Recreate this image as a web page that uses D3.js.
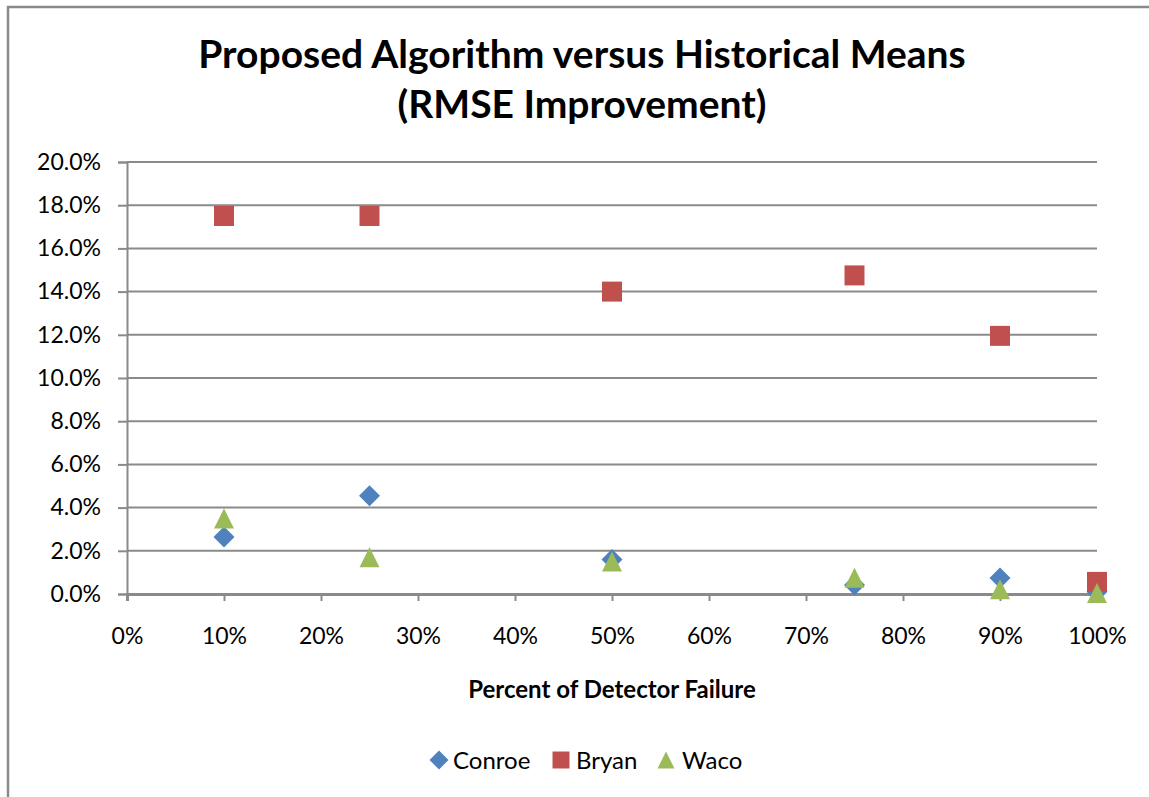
<!DOCTYPE html>
<html>
<head>
<meta charset="utf-8">
<script src="https://cdn.jsdelivr.net/npm/d3@7"></script>
<style>
  html, body { margin: 0; padding: 0; background: #fff; }
  svg { display: block; }
  text { font-family: Lato, "Open Sans", sans-serif; fill: #000; }
</style>
</head>
<body>
<svg id="chart" width="1149" height="797"></svg>
<script>
// Percent of detector failure (x) and RMSE improvement (%) per city
const failurePct = [10, 25, 50, 75, 90, 100];
const conroe = [2.64, 4.55, 1.6, 0.42, 0.74, 0.1];
const bryan  = [17.5, 17.5, 14.0, 14.75, 11.95, 0.56];
const waco   = [3.5, 1.7, 1.5, 0.75, 0.22, 0.05];

const xTicks = [0, 10, 20, 30, 40, 50, 60, 70, 80, 90, 100];
const yTicks = [0, 2, 4, 6, 8, 10, 12, 14, 16, 18, 20];

const titleLines = ["Proposed Algorithm versus Historical Means", "(RMSE Improvement)"];
const xTitle = "Percent of Detector Failure";

const series = [
  { name: "Conroe", values: conroe, color: "#4F81BD", shape: "diamond" },
  { name: "Bryan",  values: bryan,  color: "#C0504D", shape: "square" },
  { name: "Waco",   values: waco,   color: "#9BBB59", shape: "triangle" }
];

const svg = d3.select("#chart");
const W = 1149, H = 797;
const plot = { left: 127, right: 1097, top: 162, bottom: 594 };
const gridColor = "#8a8a8a";

// chart frame
svg.append("rect")
  .attr("x", 8).attr("y", 7)
  .attr("width", W + 20).attr("height", H + 20)
  .attr("fill", "#fff")
  .attr("stroke", gridColor).attr("stroke-width", 2.5);

const x = d3.scaleLinear().domain([0, 100]).range([plot.left, plot.right]);
const y = d3.scaleLinear().domain([0, 20]).range([plot.bottom, plot.top]);

// horizontal gridlines
svg.append("g").selectAll("line")
  .data(yTicks.filter(d => d > 0))
  .join("line")
  .attr("x1", plot.left).attr("x2", plot.right)
  .attr("y1", d => y(d)).attr("y2", d => y(d))
  .attr("stroke", gridColor).attr("stroke-width", 2);

// y axis
const yAxis = svg.append("g")
  .attr("transform", `translate(${plot.left},0)`)
  .call(d3.axisLeft(y).tickValues(yTicks).tickSize(9).tickPadding(9)
    .tickFormat(d => d.toFixed(1) + "%"));
yAxis.select(".domain").attr("stroke", gridColor).attr("stroke-width", 2);
yAxis.selectAll(".tick line").attr("stroke", gridColor).attr("stroke-width", 2);
yAxis.selectAll(".tick text")
  .attr("font-size", 23).attr("font-family", "Lato, sans-serif").attr("fill", "#000")
  .attr("dx", -8);

// x axis
const xAxis = svg.append("g")
  .attr("transform", `translate(0,${plot.bottom})`)
  .call(d3.axisBottom(x).tickValues(xTicks).tickSize(7).tickPadding(27)
    .tickFormat(d => d + "%"));
xAxis.select(".domain").attr("stroke", gridColor).attr("stroke-width", 3);
xAxis.selectAll(".tick line").attr("stroke", gridColor).attr("stroke-width", 2);
xAxis.selectAll(".tick text")
  .attr("font-size", 23).attr("font-family", "Lato, sans-serif").attr("fill", "#000");

// titles
svg.append("g").selectAll("text")
  .data(titleLines)
  .join("text")
  .attr("x", 582)
  .attr("y", (d, i) => 68 + i * 50)
  .attr("text-anchor", "middle")
  .attr("font-size", 39)
  .attr("font-weight", "bold")
  .text(d => d);

svg.append("text")
  .attr("x", 612).attr("y", 698)
  .attr("text-anchor", "middle")
  .attr("font-size", 24)
  .attr("font-weight", "bold")
  .text(xTitle);

// marker shapes, centred on their bounding box
function markerPath(shape, r) {
  const p = d3.path();
  if (shape === "diamond") {
    p.moveTo(0, -r); p.lineTo(r, 0); p.lineTo(0, r); p.lineTo(-r, 0);
  } else if (shape === "square") {
    p.rect(-r, -r, 2 * r, 2 * r);
  } else {
    p.moveTo(0, -r); p.lineTo(r, r); p.lineTo(-r, r);
  }
  p.closePath();
  return p.toString();
}

// data points
series.forEach(s => {
  svg.append("g").selectAll("path")
    .data(failurePct.map((p, i) => ({ p, v: s.values[i] })))
    .join("path")
    .attr("d", markerPath(s.shape, s.shape === "diamond" ? 10.5 : 10))
    .attr("transform", d => `translate(${x(d.p)},${y(d.v)})`)
    .attr("fill", s.color);
});

// legend
const legendItems = [
  { s: series[0], mx: 439, tx: 453 },
  { s: series[1], mx: 561, tx: 576 },
  { s: series[2], mx: 666, tx: 682 }
];
const legend = svg.append("g");
legendItems.forEach(it => {
  legend.append("path")
    .attr("d", markerPath(it.s.shape, it.s.shape === "diamond" ? 9.5 : 8.5))
    .attr("transform", `translate(${it.mx},760)`)
    .attr("fill", it.s.color);
  legend.append("text")
    .attr("x", it.tx).attr("y", 769)
    .attr("font-size", 24)
    .text(it.s.name);
});
</script>
</body>
</html>
